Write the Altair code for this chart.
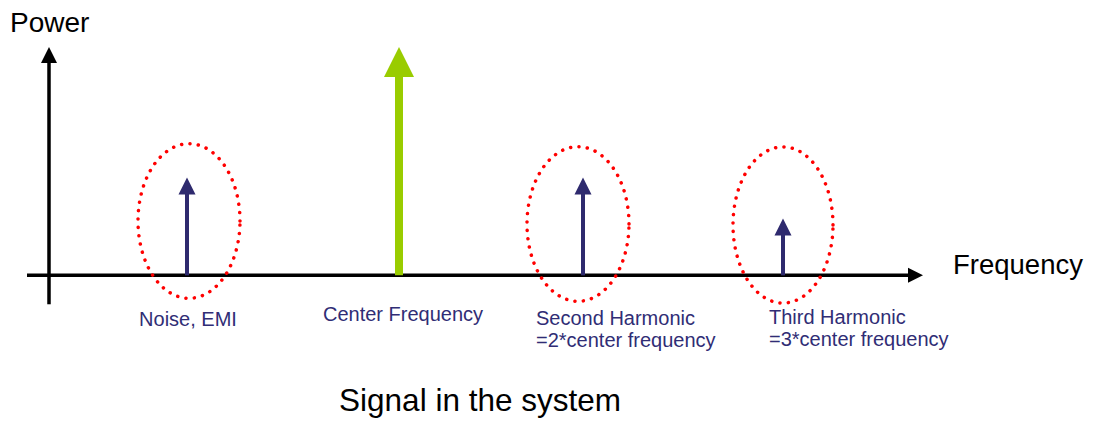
import altair as alt
import numpy as np
import pandas as pd

# ---- chart values (frequency units: y-axis at 0; power units: baseline at 0) ----
components = ["Noise, EMI", "Center Frequency", "Second Harmonic", "Third Harmonic"]
freqs = [138, 350, 534, 734]
powers = [98, 229, 98, 57]
kinds = ["spur", "carrier", "spur", "spur"]

# label rows (text, x, y, align)
label_text = ["Noise, EMI", "Center Frequency", "Second Harmonic", "=2*center frequency",
              "Third Harmonic", "=3*center frequency"]
label_x = [139, 354, 487, 487, 720, 720]
label_y = [-51, -46, -50, -72, -49, -71]
label_align = ["center", "center", "left", "left", "left", "left"]

# highlight ellipses around the unwanted components
ell_names = ["Noise, EMI", "Second Harmonic", "Third Harmonic"]
ell_cx = [140, 529, 734]
ell_cy = [54.5, 51.5, 50.5]
ell_rx = [51, 51, 50]
ell_ry = [77.5, 77.5, 78.3]

# axes extents
x_axis_start, x_axis_tip = -22, 874
y_axis_start, y_axis_tip = -29, 229

X_DOM = [-41, 1036]
Y_DOM = [-142, 268]
W, H = 1077, 410

FONT = "Liberation Sans"
NAVY = "#2E2A6E"
TEXT_NAVY = "#302D75"
GREEN = "#99CC00"

xs = alt.Scale(domain=X_DOM, nice=False, zero=False)
ys = alt.Scale(domain=Y_DOM, nice=False, zero=False)

UP = "M0,0L1,2L-1,2Z"
RIGHT = "M0,0L-2,-1L-2,1Z"
HEAD_SPUR = 17
HEAD_CARRIER = 30
HEAD_YAX = 16
HEAD_XAX = 15

spikes = pd.DataFrame({"name": components, "f": freqs, "p": powers, "kind": kinds})
spikes["zero"] = 0
spikes["shaft_top"] = [p - (HEAD_CARRIER if k == "carrier" else HEAD_SPUR) + 1
                       for p, k in zip(powers, kinds)]
spur = spikes[spikes.kind == "spur"]
carrier = spikes[spikes.kind == "carrier"]

# ellipse outlines
rows = []
t = np.linspace(0, 2 * np.pi, 241)
for n, cx, cy, rx, ry in zip(ell_names, ell_cx, ell_cy, ell_rx, ell_ry):
    for i, a in enumerate(t):
        rows.append({"name": n, "i": i, "x": cx + rx * np.cos(a), "y": cy + ry * np.sin(a)})
ell = pd.DataFrame(rows)

axes_df = pd.DataFrame({
    "x": [x_axis_start, 0], "x2": [x_axis_tip - HEAD_XAX + 1, 0],
    "y": [0, y_axis_start], "y2": [0, y_axis_tip - HEAD_YAX + 1],
})
yhead = pd.DataFrame({"x": [0], "y": [y_axis_tip]})
xhead = pd.DataFrame({"x": [x_axis_tip], "y": [0]})

labels = pd.DataFrame({"t": label_text, "x": label_x, "y": label_y, "a": label_align})
lab_c = labels[labels.a == "center"]
lab_l = labels[labels.a == "left"]

power_title = pd.DataFrame({"t": ["Power"], "x": [-39], "y": [244]})
freq_title = pd.DataFrame({"t": ["Frequency"], "x": [904], "y": [1]})
caption = pd.DataFrame({"t": ["Signal in the system"], "x": [431], "y": [-136]})

X = lambda f="x": alt.X(f"{f}:Q", scale=xs, axis=None)
Y = lambda f="y": alt.Y(f"{f}:Q", scale=ys, axis=None)

axes_lines = alt.Chart(axes_df).mark_rule(color="black", strokeWidth=3.5).encode(
    x=X(), x2="x2:Q", y=Y(), y2="y2:Q")
yh = alt.Chart(yhead).mark_point(shape=UP, filled=True, size=HEAD_YAX ** 2, color="black",
                                 opacity=1, strokeWidth=0).encode(x=X(), y=Y())
xh = alt.Chart(xhead).mark_point(shape=RIGHT, filled=True, size=HEAD_XAX ** 2, color="black",
                                 opacity=1, strokeWidth=0).encode(x=X(), y=Y())

spur_shaft = alt.Chart(spur).mark_rule(color=NAVY, strokeWidth=4).encode(
    x=X("f"), y=Y("zero"), y2="shaft_top:Q")
spur_head = alt.Chart(spur).mark_point(shape=UP, filled=True, size=HEAD_SPUR ** 2, color=NAVY,
                                       opacity=1, strokeWidth=0).encode(x=X("f"), y=Y("p"))
car_shaft = alt.Chart(carrier).mark_rule(color=GREEN, strokeWidth=8).encode(
    x=X("f"), y=Y("zero"), y2="shaft_top:Q")
car_head = alt.Chart(carrier).mark_point(shape=UP, filled=True, size=HEAD_CARRIER ** 2, color=GREEN,
                                         opacity=1, strokeWidth=0).encode(x=X("f"), y=Y("p"))

ellipses = alt.Chart(ell).mark_line(color="#FF0000", strokeWidth=3.5, strokeDash=[0.1, 8.3],
                                    strokeCap="round").encode(
    x=X(), y=Y(), detail="name:N", order="i:Q")

txt_c = alt.Chart(lab_c).mark_text(font=FONT, fontSize=20, color=TEXT_NAVY, align="center",
                                   baseline="alphabetic").encode(x=X(), y=Y(), text="t:N")
txt_l = alt.Chart(lab_l).mark_text(font=FONT, fontSize=20, color=TEXT_NAVY, align="left",
                                   baseline="alphabetic").encode(x=X(), y=Y(), text="t:N")
ptitle = alt.Chart(power_title).mark_text(font=FONT, fontSize=28, color="black", align="left",
                                          baseline="alphabetic").encode(x=X(), y=Y(), text="t:N")
ftitle = alt.Chart(freq_title).mark_text(font=FONT, fontSize=27.5, color="black", align="left",
                                         baseline="alphabetic").encode(x=X(), y=Y(), text="t:N")
cap = alt.Chart(caption).mark_text(font=FONT, fontSize=31.5, color="black", align="center",
                                   baseline="alphabetic").encode(x=X(), y=Y(), text="t:N")

chart = alt.layer(
    axes_lines, yh, xh, car_shaft, car_head, spur_shaft, spur_head, ellipses,
    txt_c, txt_l, ptitle, ftitle, cap
).properties(
    width=W, height=H, padding=0,
    autosize=alt.AutoSizeParams(type="fit", contains="padding"),
    background="white",
).configure_view(stroke=None)

chart.save("out.html", embed_options={"renderer": "svg", "actions": False})
